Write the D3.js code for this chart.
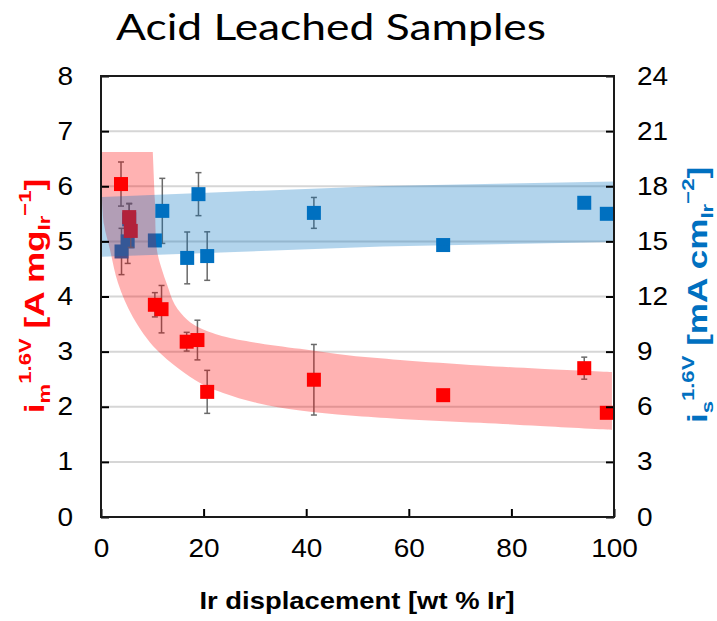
<!DOCTYPE html>
<html><head><meta charset="utf-8">
<script src="https://cdn.jsdelivr.net/npm/d3@7"></script>
<style>body{margin:0;background:#fff}svg{display:block}</style>
</head><body>
<svg id="c" width="717" height="621"></svg>
<script>
// ---- data ----
const redX   = [3.9, 5.5, 5.8, 10.5, 11.8, 16.7, 18.8, 20.7, 41.5, 66.7, 94.2, 98.6];
const redY   = [6.04, 5.44, 5.19, 3.85, 3.77, 3.18, 3.21, 2.27, 2.49, 2.21, 2.70, 1.89];
const redErr = [0.40, 0.25, 0.30, 0.22, 0.43, 0.17, 0.36, 0.39, 0.64, 0, 0.20, 0];

const blueX   = [4.0, 5.2, 5.5, 10.5, 11.95, 16.8, 19.0, 20.7, 41.5, 66.7, 94.2, 98.6];
const blueY   = [14.45, 15.0, 16.2, 15.05, 16.66, 14.1, 17.57, 14.2, 16.55, 14.8, 17.1, 16.5];
const blueErr = [1.26, 1.2, 0.84, 0, 1.77, 1.41, 1.17, 1.32, 0.84, 0, 0, 0];

// red confidence band (left axis units)
const redBandUpperX = [0.2, 10.1, 10.5, 10.9, 11.9, 12.9, 14.4, 16.8, 19.3, 24.2, 29.0, 38.8, 48.5, 58.3, 73.9, 85.6, 99.6];
const redBandUpperY = [6.62, 6.62, 5.75, 4.85, 4.48, 4.21, 3.85, 3.58, 3.43, 3.27, 3.18, 3.05, 2.93, 2.85, 2.75, 2.69, 2.63];
const redBandLowerX = [99.6, 85.6, 73.9, 58.3, 48.5, 38.8, 30.4, 23.8, 19.3, 10.9, 6.2, 3.3, 1.75, 0.6, 0.2];
const redBandLowerY = [1.58, 1.65, 1.71, 1.78, 1.84, 1.93, 2.07, 2.25, 2.43, 3.03, 3.63, 4.25, 4.85, 5.3, 5.75];

// blue band (right axis units)
const blueBandX   = [0.2, 54.9, 100];
const blueBandTop = [17.42, 18.02, 18.26];
const blueBandBot = [14.16, 14.72, 14.97];

const xTicks = [0, 20, 40, 60, 80, 100];
const yLeftTicks = [0, 1, 2, 3, 4, 5, 6, 7, 8];
const yRightTicks = [0, 3, 6, 9, 12, 15, 18, 21, 24];
const gridVals = [1, 2, 3, 4, 5, 6, 7];

// ---- layout ----
const svg = d3.select("#c");
const x = d3.scaleLinear().domain([0, 100]).range([101, 614]);
const yL = d3.scaleLinear().domain([0, 8]).range([517, 76]);
const yR = d3.scaleLinear().domain([0, 24]).range([517, 76]);
const RED = "#ff0000", BLUE = "#0070c0";
const tickFont = "'Liberation Sans', Arial, sans-serif";

// title
svg.append("text").attr("x", 331).attr("y", 40).attr("text-anchor", "middle")
  .attr("font-family", "Lato, 'Open Sans', sans-serif").attr("font-size", 37)
  .attr("textLength", 430).attr("lengthAdjust", "spacingAndGlyphs")
  .attr("fill", "#000").text("Acid Leached Samples");

// gridlines
svg.append("g").selectAll("line").data(gridVals).join("line")
  .attr("x1", x(0)).attr("x2", x(100))
  .attr("y1", d => yL(d)).attr("y2", d => yL(d))
  .attr("stroke", "#d6d6d6").attr("stroke-width", 2);

// error bars + markers
function series(xs, ys, es, yScale, color) {
  const g = svg.append("g");
  const data = xs.map((d, i) => ({x: d, y: ys[i], e: es[i]})).filter(d => d.e > 0);
  const eg = g.selectAll("g").data(data).join("g")
    .attr("stroke", "#6a6a6a").attr("stroke-width", 1.5);
  eg.append("line").attr("x1", d => x(d.x)).attr("x2", d => x(d.x))
    .attr("y1", d => yScale(d.y - d.e)).attr("y2", d => yScale(d.y + d.e));
  eg.append("line").attr("x1", d => x(d.x) - 3).attr("x2", d => x(d.x) + 3)
    .attr("y1", d => yScale(d.y - d.e)).attr("y2", d => yScale(d.y - d.e));
  eg.append("line").attr("x1", d => x(d.x) - 3).attr("x2", d => x(d.x) + 3)
    .attr("y1", d => yScale(d.y + d.e)).attr("y2", d => yScale(d.y + d.e));
  const s = 14;
  g.selectAll("rect").data(xs.map((d, i) => ({x: d, y: ys[i]}))).join("rect")
    .attr("x", d => x(d.x) - s / 2).attr("y", d => yScale(d.y) - s / 2)
    .attr("width", s).attr("height", s).attr("fill", color);
}
series(blueX, blueY, blueErr, yR, BLUE);
series(redX, redY, redErr, yL, RED);

// red band
const smooth = d3.line().curve(d3.curveCatmullRom.alpha(0.5));
const up = redBandUpperX.map((d, i) => [x(d), yL(redBandUpperY[i])]);
const lo = redBandLowerX.map((d, i) => [x(d), yL(redBandLowerY[i])]);
const bandPath = `M${up[0][0]},${up[0][1]}L` + smooth(up.slice(1)).slice(1) +
  "L" + smooth(lo).slice(1) + "Z";
svg.append("path").attr("d", bandPath).attr("fill", RED).attr("fill-opacity", 0.3);

// blue band
const area = d3.area().x(d => x(d)).y0((d, i) => yR(blueBandBot[i])).y1((d, i) => yR(blueBandTop[i]));
svg.append("path").attr("d", area(blueBandX)).attr("fill", BLUE).attr("fill-opacity", 0.3);

// axes
function styleAxis(g) {
  g.select(".domain").remove();
  g.selectAll(".tick line").attr("stroke", "#000").attr("stroke-width", 2);
  g.selectAll(".tick text").attr("font-family", tickFont).attr("font-size", 25).attr("fill", "#000")
    .each(function () {
      const w = this.getComputedTextLength();
      d3.select(this).attr("textLength", w * 1.12).attr("lengthAdjust", "spacingAndGlyphs");
    });
}
svg.append("g").attr("transform", `translate(${x(0)},0)`)
  .call(d3.axisLeft(yL).tickValues(yLeftTicks).tickSize(-8).tickSizeOuter(0).tickPadding(28).tickFormat(d3.format("d")))
  .call(styleAxis);
svg.append("g").attr("transform", `translate(${x(100)},0)`)
  .call(d3.axisRight(yR).tickValues(yRightTicks).tickSize(-8).tickSizeOuter(0).tickPadding(23).tickFormat(d3.format("d")))
  .call(styleAxis);
svg.append("g").attr("transform", `translate(0,${yL(0)})`)
  .call(d3.axisBottom(x).tickValues(xTicks).tickSize(-8).tickSizeOuter(0).tickPadding(22).tickFormat(d3.format("d")))
  .call(styleAxis);

// frame
svg.append("rect").attr("x", x(0)).attr("y", yL(8)).attr("width", x(100) - x(0)).attr("height", yL(0) - yL(8))
  .attr("fill", "none").attr("stroke", "#1a1a1a").attr("stroke-width", 2);

// x axis title
svg.append("text").attr("x", 357).attr("y", 609).attr("text-anchor", "middle")
  .attr("font-family", tickFont).attr("font-weight", "bold").attr("font-size", 24)
  .attr("textLength", 315).attr("lengthAdjust", "spacingAndGlyphs")
  .attr("fill", "#000").text("Ir displacement [wt % Ir]");

// y labels
function yLabel(cx, cy, color, sub1, sup1, unit, sup2) {
  const t = svg.append("text").attr("transform", `translate(${cx},${cy}) rotate(-90) scale(1.3,1)`)
    .attr("text-anchor", "middle").attr("font-family", tickFont).attr("font-weight", "bold")
    .attr("font-size", 27).attr("fill", color);
  t.append("tspan").text("i");
  t.append("tspan").attr("font-size", 17).attr("dy", 6).text(sub1);
  t.append("tspan").attr("font-size", 17).attr("dy", -19).text(sup1);
  t.append("tspan").attr("dy", 13).text(" [" + unit);
  t.append("tspan").attr("font-size", 17).attr("dy", 6).text("Ir");
  t.append("tspan").attr("font-size", 17).attr("dy", -19).text(sup2);
  t.append("tspan").attr("dy", 13).text("]");
}
yLabel(44, 296, RED, "m", "1.6V", "A mg", "\u22121");
yLabel(707, 295, BLUE, "s", "1.6V", "mA cm", "\u22122");
</script>
</body></html>
